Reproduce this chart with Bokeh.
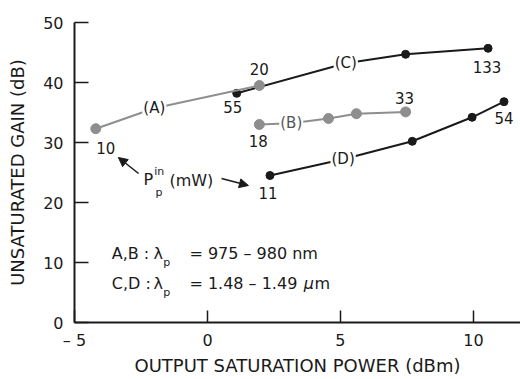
from bokeh.plotting import figure
from bokeh.models import Range1d, FixedTicker, Title, Arrow, NormalHead, ColumnDataSource
from bokeh.core.properties import value
from bokeh.embed import file_html
from bokeh.resources import INLINE

# Output saturation power (dBm) vs. unsaturated gain (dB) for the four amplifier setups
a_power = [-4.2, 1.95]
a_gain = [32.3, 39.5]
a_pump = ["10", "20"]          # input pump power at each point (mW)

b_power = [1.95, 4.55, 5.6, 7.45]
b_gain = [33.0, 34.0, 34.8, 35.1]
b_pump = ["18", "", "", "33"]

c_power = [1.1, 7.45, 10.55]
c_gain = [38.2, 44.7, 45.7]
c_pump = ["55", "", "133"]

d_power = [2.35, 7.7, 9.95, 11.15]
d_gain = [24.5, 30.2, 34.2, 36.8]
d_pump = ["11", "", "", "54"]

# where each curve's letter tag sits on its curve
tag_names = ["A", "B", "C", "D"]
tag_power = [-2.0, 3.15, 5.2, 5.1]
tag_gain = [35.7, 33.2, 43.2, 27.2]

x_ticks = [-5, 0, 5, 10]
y_ticks = [0, 10, 20, 30, 40, 50]

FONT_NAME = "DejaVu Sans"
FONT = value(FONT_NAME)
INK = "#1a1a1a"
GRAY = "#8e8e8e"

p = figure(width=520, height=379, output_backend="svg", toolbar_location=None,
           x_range=Range1d(-5, 11.77), y_range=Range1d(0, 50),
           min_border_left=74, min_border_right=0, min_border_top=22, min_border_bottom=57)
p.outline_line_color = None
p.grid.visible = False
p.background_fill_color = "white"
p.border_fill_color = "white"

for ax in (p.xaxis, p.yaxis):
    ax.axis_line_width = 2
    ax.axis_line_color = INK
    ax.major_tick_line_color = INK
    ax.major_tick_line_width = 1.5
    ax.major_tick_out = 0
    ax.minor_tick_line_color = None
    ax.major_label_text_font = FONT_NAME
    ax.major_label_text_font_size = "16px"
    ax.major_label_text_color = INK

p.xaxis.ticker = FixedTicker(ticks=x_ticks)
p.xaxis.major_tick_in = 12
p.xaxis.major_label_standoff = 8
p.xaxis.major_label_overrides = {-5: "\u2013 5"}

p.yaxis.ticker = FixedTicker(ticks=y_ticks)
p.yaxis.major_tick_in = 14
p.yaxis.major_label_standoff = 11
p.yaxis.axis_label = "UNSATURATED GAIN (dB)"
p.yaxis.axis_label_text_font = FONT_NAME
p.yaxis.axis_label_text_font_size = "18px"
p.yaxis.axis_label_text_font_style = "normal"
p.yaxis.axis_label_text_color = INK
p.yaxis.axis_label_standoff = 12

p.add_layout(Title(text="OUTPUT SATURATION POWER (dBm)", align="center", offset=11,
                   text_font=FONT_NAME, text_font_size="18px", text_font_style="normal",
                   text_color=INK, standoff=0), "below")

series = [
    ("C", c_power, c_gain, c_pump, INK, 8, [(-4, 14), None, (-1, 19)]),
    ("D", d_power, d_gain, d_pump, INK, 8, [(-2, 17), None, None, (0, 16)]),
    ("A", a_power, a_gain, a_pump, GRAY, 10, [(10, 19), (0, -17)]),
    ("B", b_power, b_gain, b_pump, GRAY, 10, [(-1, 16), None, None, (-1, -14)]),
]

for name, xs, ys, pumps, color, msize, offs in series:
    k = tag_names.index(name)
    path = sorted(list(zip(xs, ys)) + [(tag_power[k], tag_gain[k])])
    p.line([q[0] for q in path], [q[1] for q in path], line_color=color, line_width=2)
    p.scatter(xs, ys, size=msize, fill_color=color, line_color=color)
    lx, ly, lt, ox, oy = [], [], [], [], []
    for x, y, t, o in zip(xs, ys, pumps, offs):
        if t and o:
            lx.append(x); ly.append(y); lt.append(t); ox.append(o[0]); oy.append(o[1])
    src = ColumnDataSource(dict(x=lx, y=ly, t=lt, ox=ox, oy=oy))
    p.text("x", "y", text="t", x_offset="ox", y_offset="oy", source=src,
           text_font=FONT, text_font_size="15px", text_color=INK,
           text_align="center", text_baseline="middle")

# letter tags break the curves
p.text(tag_power, tag_gain, text=["(%s)" % n for n in tag_names],
       text_font=FONT, text_font_size="15px", text_color=[INK, "#555555", INK, INK],
       text_align="center", text_baseline="middle",
       background_fill_color="white", padding=1)

# pump power annotation with two arrows
def txt(x, y, s, size="16px", style="normal"):
    p.text([x], [y], text=[s], text_font=FONT, text_font_size=size, text_color=INK,
           text_font_style=style, text_align="left", text_baseline="middle")

txt(-2.41, 23.83, "P")
txt(-2.0, 25.17, "in", "11px")
txt(-1.95, 21.67, "p", "11px")
txt(-1.43, 23.67, "(mW)")

head = dict(size=9, fill_color=INK, line_color=INK)
p.add_layout(Arrow(x_start=-2.59, y_start=24.83, x_end=-3.35, y_end=27.5,
                   end=NormalHead(**head), line_color=INK, line_width=1.5))
p.add_layout(Arrow(x_start=0.53, y_start=24.0, x_end=1.54, y_end=22.83,
                   end=NormalHead(**head), line_color=INK, line_width=1.5))

# pump wavelength notes
txt(-3.6, 11.5, "A,B :")
txt(-2.03, 11.5, "\u03bb")
txt(-1.66, 10.0, "p", "11px")
txt(-0.68, 11.5, "= 975 \u2013 980 nm")
txt(-3.6, 6.5, "C,D :")
txt(-2.03, 6.5, "\u03bb")
txt(-1.66, 5.0, "p", "11px")
txt(-0.68, 6.5, "= 1.48 \u2013 1.49")
txt(3.62, 6.5, "\u03bc", "16px", "italic")
txt(4.02, 6.5, "m")

open("out.html", "w").write(file_html(p, INLINE))
